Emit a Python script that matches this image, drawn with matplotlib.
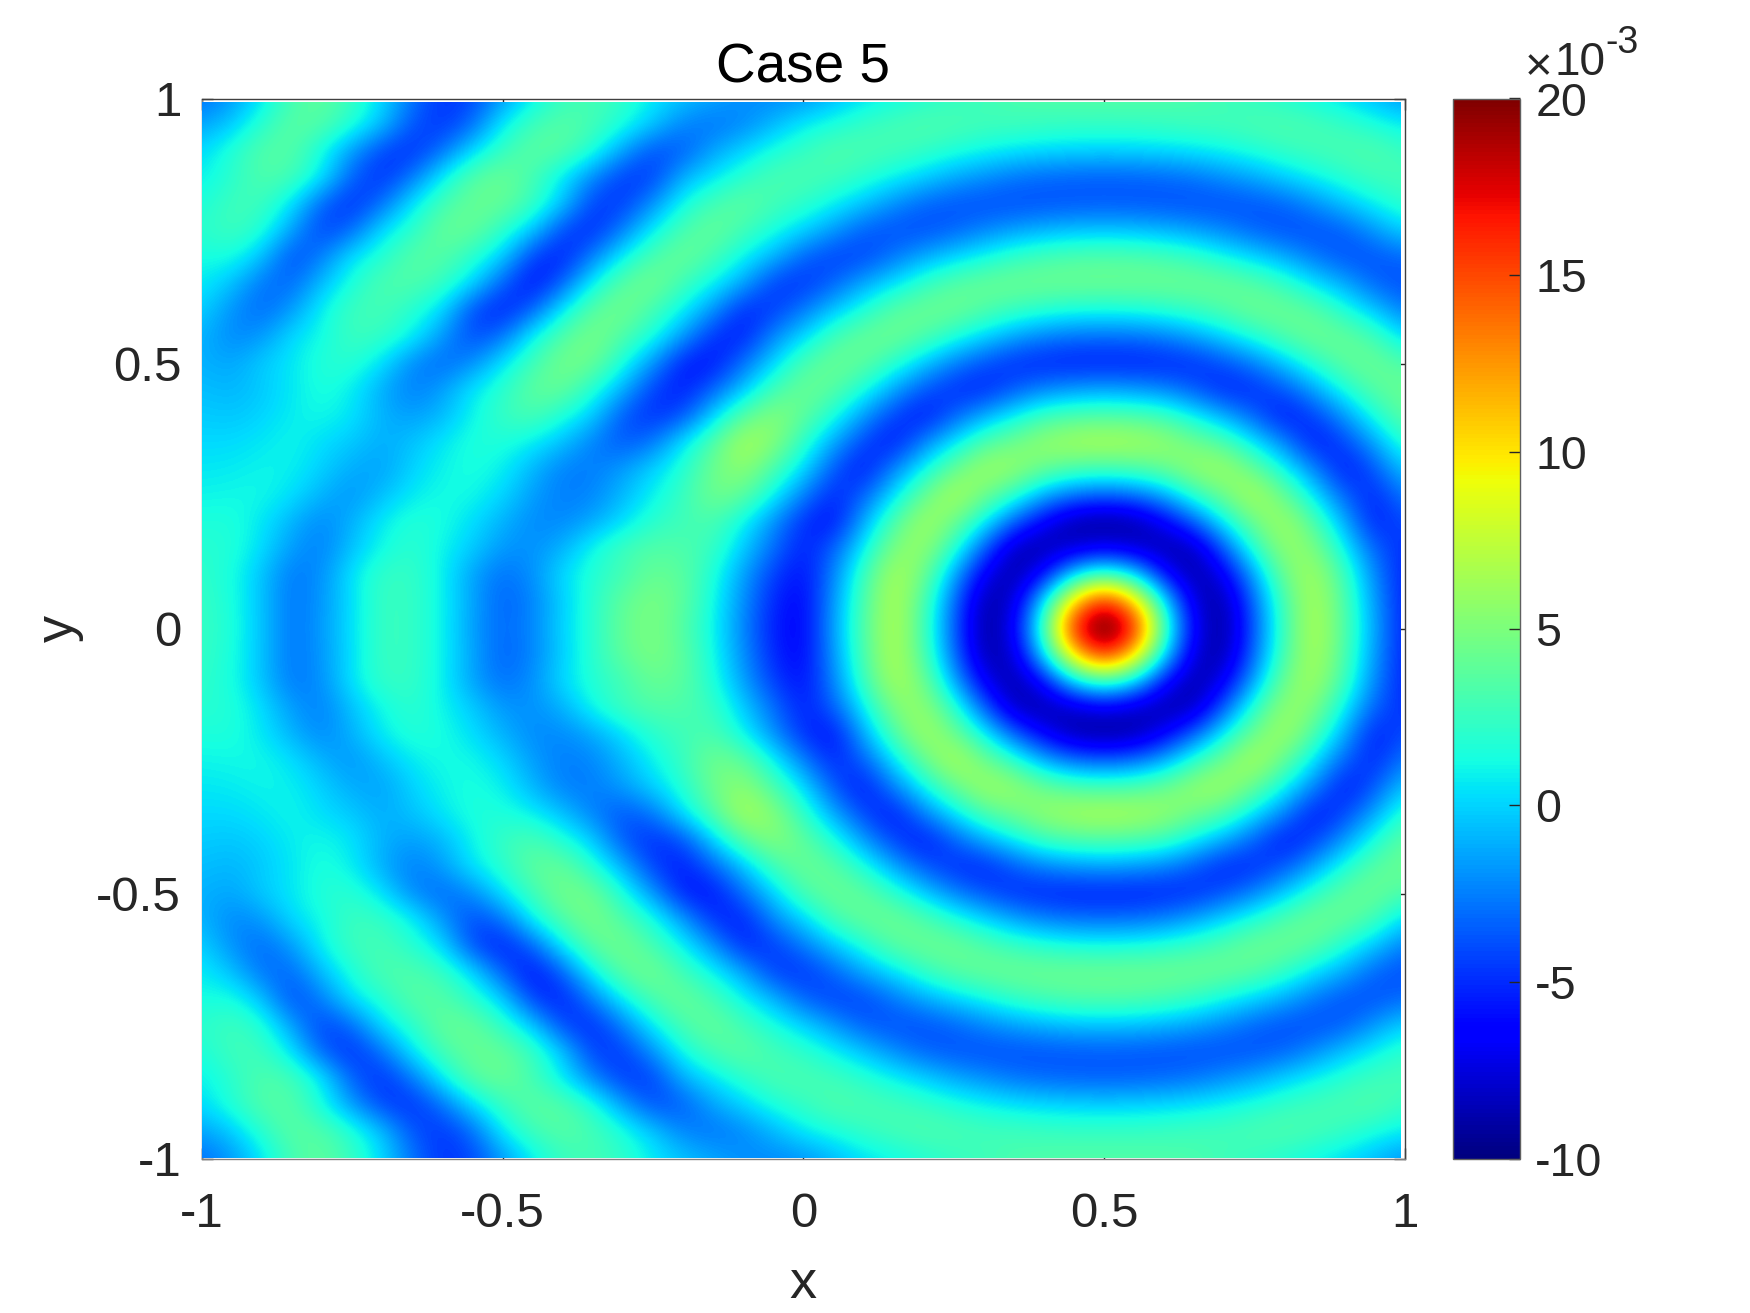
import numpy as np
import matplotlib
matplotlib.use('Agg')
import matplotlib.pyplot as plt
from matplotlib.patches import Rectangle

plt.rcParams['font.family'] = ['Liberation Sans', 'DejaVu Sans']
plt.rcParams['axes.unicode_minus'] = False

# field values, in units of 1e-3
# columns x = -1 ... 1, rows y = 1 ... -1, step 0.05
x_grid = [-1 + i / 20 for i in range(41)]
y_grid = [1 - i / 20 for i in range(41)]
field = [
    [-3,-1.8,.5,3,4,2.5,.2,-2.8,-4.8,-4.2,-1.8,.7,2.5,3,2.2,.7,-.4,-1.2,-2,-2.2,-2,-.9,.3,1,1.7,2.3,2.7,3.2,3.4,3.5,3.5,3.5,3.4,3.2,2.7,2.3,1.7,1,.2,-.8,-2],
    [-1.5,-.3,2,3.8,3.5,1.8,-.5,-3.8,-4.8,-3.2,.8,2.8,3.7,3,1.6,-.3,-2.4,-2.9,-2.3,-.9,.7,1.5,2.4,3,3.4,3.2,2.9,2.8,2.6,2.5,2.5,2.5,2.6,2.8,2.9,3.2,3.4,3,2.4,1.5,.7],
    [.2,1.8,3.5,3.6,1.2,-1.7,-4.3,-5,-3,.2,2.5,3.9,3.6,1.8,-1.5,-4,-3.6,-1.4,0,1.5,2.4,3.4,3.2,2.9,2.4,1.7,1.1,.6,.3,.1,0,.1,.3,.6,1.1,1.7,2.4,2.9,3.2,3.4,2.4],
    [.8,2,3.4,3,.7,-3.5,-5,-2.8,.8,3.6,4.4,3,.6,-2.3,-4.6,-4.5,-1,.5,2,3.2,3.2,2.8,2,1,0,-1.2,-2,-2.8,-3.2,-3.4,-3.5,-3.4,-3.2,-2.8,-2,-1.2,0,1,2,2.8,3],
    [1.5,2.8,2.7,.5,-3.5,-5,-3,.6,3,4.3,4.2,2.6,-.3,-4.5,-4.6,-2,1.3,3,4,2.9,2.2,1,-.4,-2,-3.3,-3.8,-4,-4,-3.9,-3.8,-3.7,-3.8,-3.9,-4,-4,-3.8,-3.3,-2,-.4,1,2.2],
    [2,2.8,1.8,-1.5,-4.5,-3.2,.4,2,4.2,4.2,2.2,-.2,-4.3,-5.2,-2.5,.8,3.2,4.3,2.9,1.5,.1,-1.7,-3.5,-4,-4,-3.4,-2.4,-1.6,-1,-.6,-.5,-.6,-1,-1.6,-2.4,-3.4,-4,-4,-3.5,-1.7,.1],
    [1.3,1.5,-.5,-4.2,-2.5,.5,1.8,3.7,3.6,2,0,-4.6,-5.5,-2.5,.9,3.3,4.4,3,1,-.8,-3.4,-4.4,-4.3,-2.8,-1.3,0,1.1,2.3,3,3.4,3.5,3.4,3,2.3,1.1,0,-1.3,-2.8,-3.9,-3.9,-3.1],
    [.8,-.5,-2.9,-3.2,-.6,1.6,3.3,3.4,2.5,.3,-3.5,-6,-3.5,1,3.8,4.8,2.8,1,-1.2,-4.5,-4.8,-3.4,-1.3,.3,2.3,3.6,4.3,4.5,4.5,4.5,4.5,4.5,4.5,4.5,4.3,3.6,2.3,.3,-1.3,-3.4,-4],
    [0,-2,-3.2,-1.7,1,2.7,3,1.9,.3,-4.2,-5.5,-3.5,.8,3.8,4.8,3,.9,-1.8,-5.2,-4.6,-2.7,-.5,1.6,3.7,4.4,4.5,3.5,2.6,2,1.6,1.5,1.6,2,2.6,3.5,4.5,4.4,3.7,1.6,-.5,-2.7],
    [-.9,-2.3,-1.8,.3,1.2,2.7,2.4,1,-1.8,-4.2,-3,1,3.5,5,3.4,1.5,-1.6,-5,-5.5,-2.2,0,2.9,4.2,4.5,3.5,1.8,.2,-1.3,-2.4,-2.9,-3,-2.9,-2.4,-1.3,.2,1.8,3.5,4.5,4.2,2.9,0],
    [-1,-1.4,-.2,.6,1.8,2,.4,-2.3,-3.2,-2.2,.5,2.8,4.8,4.5,1.5,-1.8,-5.6,-5.8,-3,0,3.2,4.4,4,2.2,-.2,-2.4,-3.9,-5,-5.3,-5.5,-5.5,-5.5,-5.3,-5,-3.9,-2.4,-.2,2.2,4,4.4,3.2],
    [-.6,-.9,-.3,.6,1.6,.8,-1.2,-2.6,-1.6,.6,2,4,4.2,1.8,-1,-4.5,-5.6,-3.4,-.5,2.9,4.4,3.8,1.6,-1.3,-3.7,-5,-5.3,-3.7,-2.4,-1.8,-1.5,-1.8,-2.4,-3.7,-5.3,-5,-3.7,-1.3,1.6,3.8,4.4],
    [-.2,-.4,0,.8,1.2,.5,-1,-1.6,-.8,1,2.5,3.2,1.6,-.2,-3.8,-5,-4,0,3.7,5.5,4,1.6,-1.7,-4.4,-5.8,-3.5,-1.2,.8,2.7,3.3,3.5,3.3,2.7,.8,-1.2,-3.5,-5.8,-4.4,-1.7,1.6,4],
    [.2,.2,.6,1.1,.3,-.3,-1.2,-.5,.6,1.6,1.6,.8,-.6,-2.5,-3.8,-2.8,.5,3.5,6.8,5.5,2.2,-1.3,-4.3,-5.8,-2.4,.4,3.3,4.6,6,6.7,7,6.7,6,4.6,3.3,.4,-2.4,-5.8,-4.3,-1.3,2.2],
    [.6,.7,1,.9,-.1,-1.2,-1.5,0,1,1.5,.9,-.9,-2.5,-2.6,-1.6,0,1.8,4.5,5.8,3.2,.3,-3.7,-5.8,-2.4,1,4.2,6.4,6,4.3,3.3,3,3.3,4.3,6,6.4,4.2,1,-2.4,-5.8,-3.7,-.2],
    [1,1.1,1.2,.4,-1,-1.9,-.6,.7,1.3,1.2,.1,-1.6,-2.6,-2.3,-.8,.9,2.5,4.7,4,1,-2.5,-5.3,-3.5,.4,4.2,7,4.7,2.2,-1.2,-3,-3.5,-3,-1.2,2.2,4.7,7,4.2,.4,-3.5,-5.3,-2.4],
    [1.5,1.6,.6,-1,-2.3,-1,.8,1.8,1.4,.3,-1,-2.2,-2.2,-1.3,.3,2,2.8,3.2,1,-2,-5,-6,-1.2,3.3,6.5,4.7,1,-3.5,-6.7,-9,-9.5,-9,-6.7,-3.5,1,4.7,6.5,3.3,-1.2,-5.6,-3.9],
    [1.9,1.7,.3,-1.7,-2.5,-.5,1.2,2.1,1,-.2,-1.8,-2,-1,1.2,2.8,3.5,3.3,2.5,-.2,-3,-5.5,-3.5,.8,5.2,6,2.2,-3.5,-8.5,-9,-8,-7,-8,-9,-8.5,-3.5,2.2,6,5.2,.8,-3.5,-5],
    [2.2,1.4,-.5,-2.8,-2,.6,2.4,2.4,.9,-1.5,-3,-2,.3,1.8,2.8,4.3,3.8,1.6,-1.5,-4.5,-6,-2.4,2.7,6.8,4.7,-1.2,-7,-9.2,-6,.5,3,.5,-6,-9.2,-7,-1.2,4.7,6.6,2.7,-2.4,-5.4],
    [2.4,1.5,-.5,-2.9,-1.8,.4,2.6,2.4,1,-1.4,-3.4,-2.4,-.1,2,4,5,3.9,1.2,-2,-5.2,-6.4,-1.8,3.3,7.2,3.4,-3,-9,-8,.5,11,17,11,.5,-8,-9,-3,3.4,7,3.3,-1.8,-5.5],
    [2.5,1.6,-.5,-2.9,-1.7,.5,2.6,2.4,1,-1.6,-3.2,-2.3,.1,2,4.2,5,3.5,1,-2.3,-5.5,-6.5,-1.5,3.5,7.3,3,-3.5,-9.5,-7,3,17,22,17,3,-7,-9.5,-3.5,3,7.3,3.5,-1.5,-5.5],
    [2.4,1.5,-.5,-2.9,-1.8,.4,2.6,2.4,1,-1.4,-3.4,-2.4,-.1,2,4,5,3.9,1.2,-2,-5.2,-6.4,-1.8,3.3,7.2,3.4,-3,-9,-8,.5,11,17,11,.5,-8,-9,-3,3.4,7,3.3,-1.8,-5.5],
    [2.2,1.4,-.5,-2.8,-2,.6,2.4,2.4,.9,-1.5,-3,-2,.3,1.8,2.8,4.3,3.8,1.6,-1.5,-4.5,-6,-2.4,2.7,6.8,4.7,-1.2,-7,-9.2,-6,.5,3,.5,-6,-9.2,-7,-1.2,4.7,6.6,2.7,-2.4,-5.4],
    [1.9,1.7,.3,-1.7,-2.5,-.5,1.2,2.1,1,-.2,-1.8,-2,-1,1.2,2.8,3.5,3.3,2.5,-.2,-3,-5.5,-3.5,.8,5.2,6,2.2,-3.5,-8.5,-9,-8,-7,-8,-9,-8.5,-3.5,2.2,6,5.2,.8,-3.5,-5],
    [1.5,1.6,.6,-1,-2.3,-1,.8,1.8,1.4,.3,-1,-2.2,-2.2,-1.3,.3,2,2.8,3.2,1,-2,-5,-6,-1.2,3.3,6.5,4.7,1,-3.5,-6.7,-9,-9.5,-9,-6.7,-3.5,1,4.7,6.5,3.3,-1.2,-5.6,-3.9],
    [1,1.1,1.2,.4,-1,-1.9,-.6,.7,1.3,1.2,.1,-1.6,-2.6,-2.3,-.8,.9,2.5,4.7,4,1,-2.5,-5.3,-3.5,.4,4.2,7,4.7,2.2,-1.2,-3,-3.5,-3,-1.2,2.2,4.7,7,4.2,.4,-3.5,-5.3,-2.4],
    [.6,.7,1,.9,-.1,-1.2,-1.5,0,1,1.5,.9,-.9,-2.5,-2.6,-1.6,0,1.8,4.5,5.8,3.2,.3,-3.7,-5.8,-2.4,1,4.2,6.4,6,4.3,3.3,3,3.3,4.3,6,6.4,4.2,1,-2.4,-5.8,-3.7,-.2],
    [.2,.2,.6,1.1,.3,-.3,-1.2,-.5,.6,1.6,1.6,.8,-.6,-2.5,-3.8,-2.8,.5,3.5,6.8,5.5,2.2,-1.3,-4.3,-5.8,-2.4,.4,3.3,4.6,6,6.7,7,6.7,6,4.6,3.3,.4,-2.4,-5.8,-4.3,-1.3,2.2],
    [-.2,-.4,0,.8,1.2,.5,-1,-1.6,-.8,1,2.5,3.2,1.6,-.2,-3.8,-5,-4,0,3.7,5.5,4,1.6,-1.7,-4.4,-5.8,-3.5,-1.2,.8,2.7,3.3,3.5,3.3,2.7,.8,-1.2,-3.5,-5.8,-4.4,-1.7,1.6,4],
    [-.6,-.9,-.3,.6,1.6,.8,-1.2,-2.6,-1.6,.6,2,4,4.2,1.8,-1,-4.5,-5.6,-3.4,-.5,2.9,4.4,3.8,1.6,-1.3,-3.7,-5,-5.3,-3.7,-2.4,-1.8,-1.5,-1.8,-2.4,-3.7,-5.3,-5,-3.7,-1.3,1.6,3.8,4.4],
    [-1,-1.4,-.2,.6,1.8,2,.4,-2.3,-3.2,-2.2,.5,2.8,4.8,4.5,1.5,-1.8,-5.6,-5.8,-3,0,3.2,4.4,4,2.2,-.2,-2.4,-3.9,-5,-5.3,-5.5,-5.5,-5.5,-5.3,-5,-3.9,-2.4,-.2,2.2,4,4.4,3.2],
    [-.9,-2.3,-1.8,.3,1.2,2.7,2.4,1,-1.8,-4.2,-3,1,3.5,5,3.4,1.5,-1.6,-5,-5.5,-2.2,0,2.9,4.2,4.5,3.5,1.8,.2,-1.3,-2.4,-2.9,-3,-2.9,-2.4,-1.3,.2,1.8,3.5,4.5,4.2,2.9,0],
    [0,-2,-3.2,-1.7,1,2.7,3,1.9,.3,-4.2,-5.5,-3.5,.8,3.8,4.8,3,.9,-1.8,-5.2,-4.6,-2.7,-.5,1.6,3.7,4.4,4.5,3.5,2.6,2,1.6,1.5,1.6,2,2.6,3.5,4.5,4.4,3.7,1.6,-.5,-2.7],
    [.8,-.5,-2.9,-3.2,-.6,1.6,3.3,3.4,2.5,.3,-3.5,-6,-3.5,1,3.8,4.8,2.8,1,-1.2,-4.5,-4.8,-3.4,-1.3,.3,2.3,3.6,4.3,4.5,4.5,4.5,4.5,4.5,4.5,4.5,4.3,3.6,2.3,.3,-1.3,-3.4,-4],
    [1.3,1.5,-.5,-4.2,-2.5,.5,1.8,3.7,3.6,2,0,-4.6,-5.5,-2.5,.9,3.3,4.4,3,1,-.8,-3.4,-4.4,-4.3,-2.8,-1.3,0,1.1,2.3,3,3.4,3.5,3.4,3,2.3,1.1,0,-1.3,-2.8,-3.9,-3.9,-3.1],
    [2,2.8,1.8,-1.5,-4.5,-3.2,.4,2,4.2,4.2,2.2,-.2,-4.3,-5.2,-2.5,.8,3.2,4.3,2.9,1.5,.1,-1.7,-3.5,-4,-4,-3.4,-2.4,-1.6,-1,-.6,-.5,-.6,-1,-1.6,-2.4,-3.4,-4,-4,-3.5,-1.7,.1],
    [1.5,2.8,2.7,.5,-3.5,-5,-3,.6,3,4.3,4.2,2.6,-.3,-4.5,-4.6,-2,1.3,3,4,2.9,2.2,1,-.4,-2,-3.3,-3.8,-4,-4,-3.9,-3.8,-3.7,-3.8,-3.9,-4,-4,-3.8,-3.3,-2,-.4,1,2.2],
    [.8,2,3.4,3,.7,-3.5,-5,-2.8,.8,3.6,4.4,3,.6,-2.3,-4.6,-4.5,-1,.5,2,3.2,3.2,2.8,2,1,0,-1.2,-2,-2.8,-3.2,-3.4,-3.5,-3.4,-3.2,-2.8,-2,-1.2,0,1,2,2.8,3],
    [.2,1.8,3.5,3.6,1.2,-1.7,-4.3,-5,-3,.2,2.5,3.9,3.6,1.8,-1.5,-4,-3.6,-1.4,0,1.5,2.4,3.4,3.2,2.9,2.4,1.7,1.1,.6,.3,.1,0,.1,.3,.6,1.1,1.7,2.4,2.9,3.2,3.4,2.4],
    [-1.5,-.3,2,3.8,3.5,1.8,-.5,-3.8,-4.8,-3.2,.8,2.8,3.7,3,1.6,-.3,-2.4,-2.9,-2.3,-.9,.7,1.5,2.4,3,3.4,3.2,2.9,2.8,2.6,2.5,2.5,2.5,2.6,2.8,2.9,3.2,3.4,3,2.4,1.5,.7],
    [-3,-1.8,.5,3,4,2.5,.2,-2.8,-4.8,-4.2,-1.8,.7,2.5,3,2.2,.7,-.4,-1.2,-2,-2.2,-2,-.9,.3,1,1.7,2.3,2.7,3.2,3.4,3.5,3.5,3.5,3.4,3.2,2.7,2.3,1.7,1,.2,-.8,-2],
]
x_ticks = [-1, -0.5, 0, 0.5, 1]
y_ticks = [-1, -0.5, 0, 0.5, 1]
cbar_ticks = [-10, -5, 0, 5, 10, 15, 20]

W, H = 1750, 1313
fig = plt.figure(figsize=(W / 100, H / 100), dpi=100)


def px_axes(left, top, right, bottom):
    return fig.add_axes([left / W, 1 - bottom / H, (right - left) / W, (bottom - top) / H])


ax = px_axes(202, 98.5, 1404.5, 1158.5)
half = 0.025
im = ax.imshow(np.array(field), cmap='jet', vmin=-10, vmax=20, aspect='auto',
               interpolation='bicubic', origin='upper', zorder=3,
               extent=[x_grid[0] - half, x_grid[-1] + half, y_grid[-1] - half, y_grid[0] + half])
# the picture stops just short of the top and right edge of the box
im.set_clip_path(Rectangle((-1, -1), 1.993, 1.993, transform=ax.transData))
ax.set_xlim(-1, 1)
ax.set_ylim(-1, 1)
ax.set_axisbelow(True)
ax.set_xticks(x_ticks, ['-1', '-0.5', '0', '0.5', '1'])
ax.set_yticks(y_ticks, ['-1', '-0.5', '0', '0.5', '1'])
ax.tick_params(direction='in', length=8, width=1, top=True, right=True, color='#262626',
               labelsize=35.5, labelcolor='#262626')
ax.tick_params(axis='x', pad=24)
ax.tick_params(axis='y', pad=15)
for side, spine in ax.spines.items():
    spine.set_linewidth(1.0)
    spine.set_color('#404040' if side in ('top', 'right') else '#808080')
ax.set_title('Case 5', fontsize=39.5, color='black', pad=11.5)
ax.set_xlabel('x', fontsize=39, color='#262626', labelpad=16)
ax.set_ylabel('y', fontsize=39, color='#262626', labelpad=9)

cax = px_axes(1453, 98.5, 1520, 1158.5)
cb = fig.colorbar(im, cax=cax)
cb.set_ticks(cbar_ticks)
cb.set_ticklabels([str(t) for t in cbar_ticks])
cb.ax.tick_params(direction='in', length=8, width=1, color='#262626', labelsize=33.5,
                  labelcolor='#262626', pad=11)
cb.outline.set_edgecolor('#606060')
cb.outline.set_linewidth(1.0)

fig.text(1525 / W, 1 - 80 / H, '\u00d7', fontsize=34, color='#262626', ha='left', va='baseline')
fig.text(1555 / W, 1 - 75 / H, '10', fontsize=33, color='#262626', ha='left', va='baseline')
fig.text(1605 / W, 1 - 53 / H, '-3', fontsize=27, color='#262626', ha='left', va='baseline')

fig.savefig('out.png', dpi=100)
